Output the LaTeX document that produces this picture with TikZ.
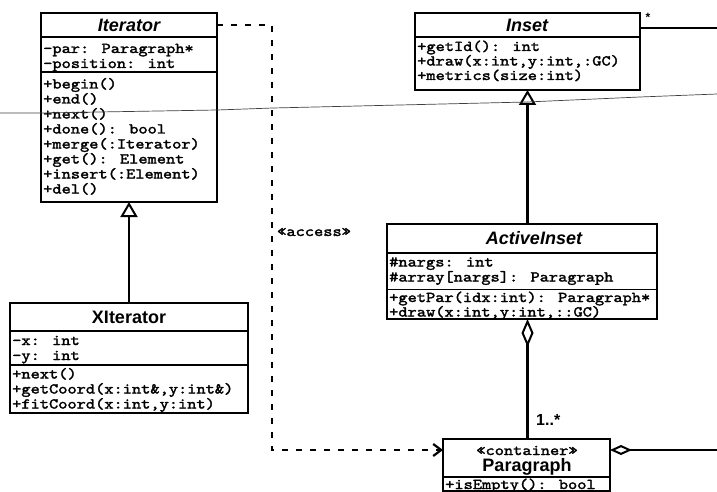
\documentclass[tikz,border=0pt]{standalone}
\usepackage{fontspec}
\setmainfont{Liberation Sans}
\newfontfamily\umlmono{lmmono10-regular}[Extension=.otf,FakeBold=2,FakeStretch=1.17]
\usetikzlibrary{arrows.meta}
\newcommand\memfont{\umlmono\fontsize{15}{15}\selectfont}

\tikzset{
  classbox/.style={draw, line width=2.2pt, inner sep=0pt, outer sep=0pt, anchor=north west},
  sepline/.style={line width=1.8pt},
  member/.style={anchor=base west, inner sep=0pt, font=\memfont},
  ctitle/.style={anchor=base, inner sep=0pt, font=\fontsize{18}{18}\selectfont\bfseries\itshape},
  ctitleup/.style={anchor=base, inner sep=0pt, font=\fontsize{18}{18}\selectfont\bfseries},
  link/.style={line width=2.4pt},
  generalize/.style={link, -{Triangle[open, length=15pt, width=17pt, line width=2pt]}},
  aggregate/.style={link, {Diamond[open, length=28pt, width=12pt, line width=2pt]}-},
  depend/.style={line width=2pt, dash pattern=on 6pt off 8pt,
    -{Straight Barb[length=8pt, width=12pt, line width=2.2pt]}},
  mult/.style={inner sep=0pt, font=\fontsize{16}{16}\selectfont\bfseries},
}

\begin{document}
\begin{tikzpicture}[x=1pt, y=-1pt, line join=miter]
\useasboundingbox (0,0) rectangle (717,492);

% ---------- Iterator ----------
\node[classbox, minimum width=176pt, minimum height=189pt] (iter) at (41,13) {};
\draw[sepline] (41,37) -- (217,37);
\draw[sepline] (41,72) -- (217,72);
\node[ctitle] (iterT) at (129,31.5) {Iterator};
\node[member] (iterA1) at (43,53) {-par: Paragraph*};
\node[member] (iterA2) at (43,68) {-position: int};
\node[member] (iterM1) at (43,88.5) {+begin()};
\node[member] (iterM2) at (43,103.5) {+end()};
\node[member] (iterM3) at (43,118.5) {+next()};
\node[member] (iterM4) at (43,133.5) {+done(): bool};
\node[member] (iterM5) at (43,148.5) {+merge(:Iterator)};
\node[member] (iterM6) at (43,163.5) {+get(): Element};
\node[member] (iterM7) at (43,178.5) {+insert(:Element)};
\node[member] (iterM8) at (43,193.5) {+del()};

% ---------- XIterator ----------
\node[classbox, minimum width=238pt, minimum height=110pt] (xiter) at (10,303) {};
\draw[sepline] (10,331) -- (248,331);
\draw[sepline] (10,365) -- (248,365);
\node[ctitleup] (xiterT) at (129,323.5) {XIterator};
\node[member] (xiterA1) at (12,345) {-x: int};
\node[member] (xiterA2) at (12,360) {-y: int};
\node[member] (xiterM1) at (12,378.5) {+next()};
\node[member] (xiterM2) at (12,393.5) {+getCoord(x:int\&,y:int\&)};
\node[member] (xiterM3) at (12,408.5) {+fitCoord(x:int,y:int)};

% ---------- Inset ----------
\node[classbox, minimum width=225pt, minimum height=77pt] (inset) at (415,13) {};
\draw[sepline] (415,37) -- (640,37);
\node[ctitle] (insetT) at (527,31.5) {Inset};
\node[member] (insetM1) at (417,51) {+getId(): int};
\node[member] (insetM2) at (417,65.5) {+draw(x:int,y:int,:GC)};
\node[member] (insetM3) at (417,80) {+metrics(size:int)};

% ---------- ActiveInset ----------
\node[classbox, minimum width=270pt, minimum height=95pt] (active) at (387,224) {};
\draw[sepline] (387,253) -- (657,253);
\draw[sepline] (387,289.5) -- (657,289.5);
\node[ctitle] (activeT) at (534,244.5) {ActiveInset};
\node[member] (activeA1) at (389,266.5) {\#nargs: int};
\node[member] (activeA2) at (389,281.5) {\#array[nargs]: Paragraph};
\node[member] (activeM1) at (389,302) {+getPar(idx:int): Paragraph*};
\node[member] (activeM2) at (389,316.5) {+draw(x:int,y:int,::GC)};

% ---------- Paragraph ----------
\node[classbox, minimum width=167pt, minimum height=52pt] (para) at (443,439) {};
\draw[sepline] (443,477) -- (610,477);
\node[anchor=base, inner sep=0pt, font=\memfont] (paraS) at (527,455) {«container»};
\node[ctitleup] (paraT) at (527,471.5) {Paragraph};
\node[member] (paraM1) at (445,489) {+isEmpty(): bool};

% ---------- relations ----------
% generalizations
\draw[generalize] (xiter) -- (iter);
\draw[generalize] (active.north -| inset.south) -- (inset.south);

% aggregation ActiveInset <>-- Paragraph
\draw[aggregate] (active.south -| inset.south) -- (para.north -| inset.south);
\node[mult, anchor=base west] (multPara) at (536,425) {1..*};

% association leaving Inset to the right
\coordinate (insetOut) at (717,28);
\draw[link] (inset.east |- insetOut) -- (insetOut);
\node[mult, font=\fontsize{12}{12}\selectfont\bfseries] (multInset) at (648,17) {*};

% aggregation leaving Paragraph to the right
\coordinate (paraOut) at (717,450);
\draw[link, {Diamond[open, length=22pt, width=10pt, line width=2pt]}-] (para.east |- paraOut) -- (paraOut);

% dependency Iterator ..> Paragraph
\coordinate (depTop) at (272,25);
\coordinate (depBot) at (272,450);
\draw[depend] (iter.east |- depTop) -- (depTop) -- (depBot) -- (para.west |- depBot);
\node[anchor=base west, inner sep=0pt, font=\memfont] (access) at (277,236) {«access»};

% thin stray rule running across the sheet
\draw[line width=0.7pt, black!75] (0,113) -- (40,113) -- (217,110) -- (273,108)
  -- (527,102) -- (640,97) -- (717,94);
\end{tikzpicture}
\end{document}
